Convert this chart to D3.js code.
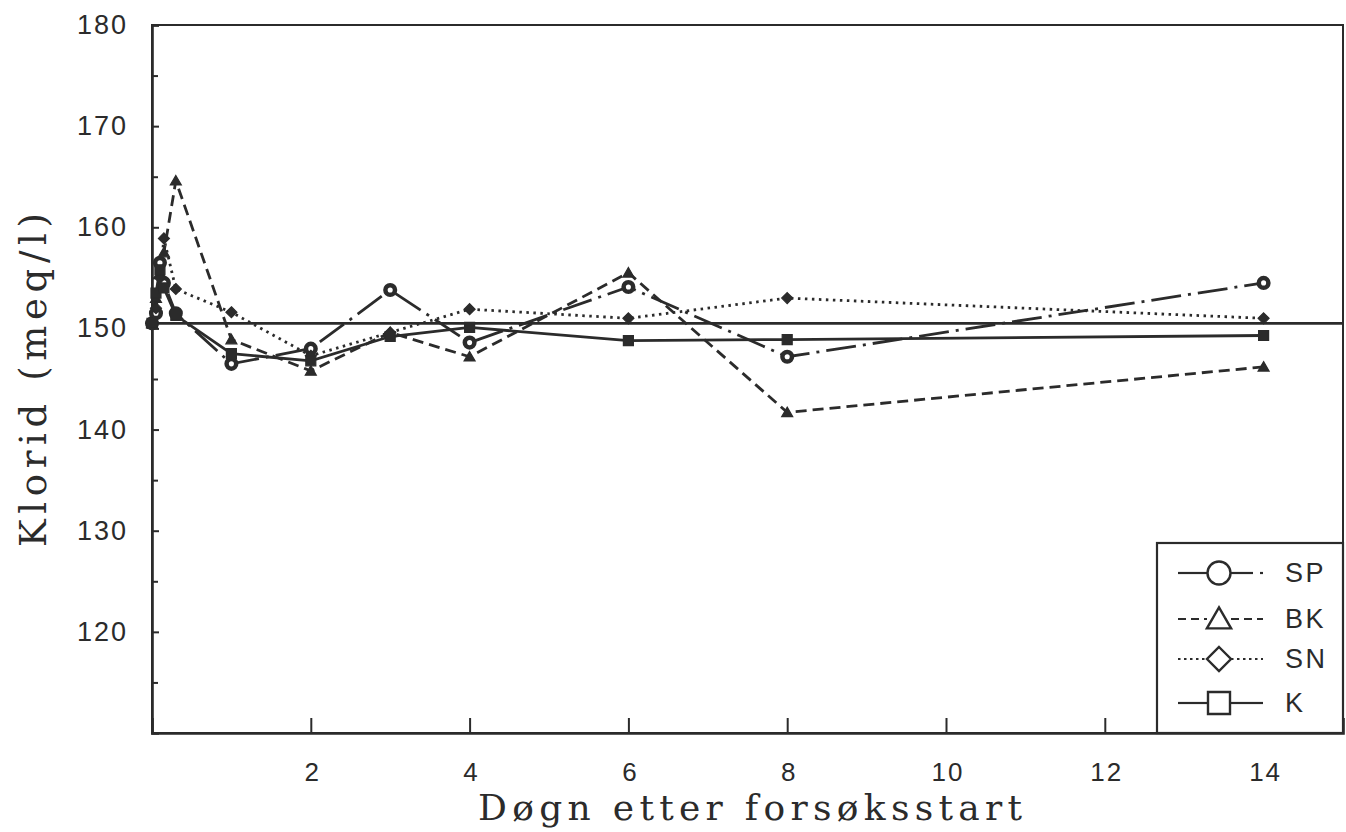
<!DOCTYPE html>
<html><head><meta charset="utf-8">
<script src="https://cdn.jsdelivr.net/npm/d3@7"></script>
<style>
html,body{margin:0;padding:0;background:#fff;}
svg{display:block;}
</style></head>
<body>
<svg id="chart" width="1346" height="832"></svg>
<script>
// ---- data ----
const days = [0, 0.05, 0.1, 0.15, 0.3, 1, 2, 3, 4, 6, 8, 14];
const spValues = [150.5, 151.5, 156.5, 154.5, 151.5, 146.5, 148.0, 153.8, 148.6, 154.1, 147.2, 154.5];
const bkValues = [150.5, 153.0, 155.5, 157.5, 164.6, 148.9, 145.8, 149.6, 147.2, 155.5, 141.7, 146.2];
const snValues = [150.5, 152.0, 155.0, 158.9, 153.9, 151.6, 147.3, 149.6, 151.9, 151.0, 153.0, 151.0];
const kValues  = [150.5, 153.5, 155.8, 154.0, 151.3, 147.5, 146.8, 149.2, 150.1, 148.8, 148.9, 149.3];
const seriesNames = ["SP", "BK", "SN", "K"];
const referenceLevel = 150.5;
const xTickValues = [2, 4, 6, 8, 10, 12, 14];
const yTickValues = [120, 130, 140, 150, 160, 170, 180];
const yMinorTicks = [115, 125, 135, 145, 155, 165, 175];
const xTitle = "Døgn etter forsøksstart";
const yTitle = "Klorid (meq/l)";

const ink = "#2b2b2b";
const series = [
  {name: seriesNames[0], values: spValues, dash: "30,7,3,7", shape: "circle"},
  {name: seriesNames[1], values: bkValues, dash: "11,6", shape: "triangle"},
  {name: seriesNames[2], values: snValues, dash: "2.5,4.5", shape: "diamond"},
  {name: seriesNames[3], values: kValues,  dash: null, shape: "square"}
];

const svg = d3.select("#chart");
const x = d3.scaleLinear().domain([0, 15]).range([152, 1343]);
const y = d3.scaleLinear().domain([110, 180]).range([733, 25]);

// frame
svg.append("rect").attr("x", x(0)).attr("y", y(180))
  .attr("width", x(15) - x(0)).attr("height", y(110) - y(180))
  .attr("fill", "none").attr("stroke", ink).attr("stroke-width", 2);

// left axis
const yAxis = d3.axisRight(y).tickValues(yTickValues).tickSize(7).tickFormat("");
const gy = svg.append("g").attr("transform", `translate(${x(0)},0)`).call(yAxis);
gy.select(".domain").attr("stroke", ink).attr("stroke-width", 2.6);
gy.selectAll(".tick line").attr("stroke", ink).attr("stroke-width", 2);
const yMinor = d3.axisRight(y).tickValues(yMinorTicks).tickSize(6).tickFormat("");
const gym = svg.append("g").attr("transform", `translate(${x(0)},0)`).call(yMinor);
gym.select(".domain").remove();
gym.selectAll(".tick line").attr("stroke", ink).attr("stroke-width", 2);
// y tick labels
svg.append("g").selectAll("text").data(yTickValues).join("text")
  .attr("x", 128).attr("y", d => y(d) + 9)
  .attr("text-anchor", "end")
  .attr("font-family", "'Liberation Sans', Arial, sans-serif")
  .attr("font-size", 27).attr("letter-spacing", 2).attr("fill", ink)
  .text(d => d);

// bottom axis
const xAxis = d3.axisTop(x).tickValues(xTickValues).tickSize(15).tickFormat("");
const gx = svg.append("g").attr("transform", `translate(0,${y(110)})`).call(xAxis);
gx.select(".domain").attr("stroke", ink).attr("stroke-width", 2.6);
gx.selectAll(".tick line").attr("stroke", ink).attr("stroke-width", 2);
svg.append("g").selectAll("text").data(xTickValues).join("text")
  .attr("x", d => x(d) + 2).attr("y", 781)
  .attr("text-anchor", "middle")
  .attr("font-family", "'Liberation Sans', Arial, sans-serif")
  .attr("font-size", 26).attr("letter-spacing", 2).attr("fill", ink)
  .text(d => d);

// axis titles
svg.append("text").attr("x", 478).attr("y", 820)
  .attr("font-family", "'DejaVu Serif', 'Liberation Serif', serif")
  .attr("font-size", 36).attr("fill", ink)
  .attr("textLength", 544).attr("lengthAdjust", "spacing")
  .text(xTitle);
svg.append("text").attr("transform", "translate(46,547) rotate(-90)")
  .attr("font-family", "'DejaVu Serif', 'Liberation Serif', serif")
  .attr("font-size", 37).attr("fill", ink)
  .attr("textLength", 334).attr("lengthAdjust", "spacing")
  .text(yTitle);

// reference line
svg.append("line").attr("x1", x(0) - 6).attr("x2", x(15))
  .attr("y1", y(referenceLevel)).attr("y2", y(referenceLevel))
  .attr("stroke", ink).attr("stroke-width", 2.8);

// series lines
const line = d3.line().x((d, i) => x(days[i])).y(d => y(d));
series.forEach(s => {
  svg.append("path").datum(s.values).attr("d", line)
    .attr("fill", "none").attr("stroke", ink).attr("stroke-width", 2.8)
    .attr("stroke-dasharray", s.dash);
});

// markers
function shapePath(shape, size) {
  const h = size / 2;
  if (shape === "triangle") return `M0,${-h*1.05}L${h*1.1},${h*0.85}L${-h*1.1},${h*0.85}Z`;
  if (shape === "diamond") return `M0,${-h}L${h},0L0,${h}L${-h},0Z`;
  if (shape === "square") return `M${-h},${-h}H${h}V${h}H${-h}Z`;
  return null;
}
series.forEach(s => {
  const g = svg.append("g");
  s.values.forEach((v, i) => {
    const cx = x(days[i]), cy = y(v);
    if (s.shape === "circle") {
      g.append("circle").attr("cx", cx).attr("cy", cy).attr("r", 4.8)
        .attr("fill", "#fff").attr("stroke", ink).attr("stroke-width", 4.5);
    } else {
      g.append("path").attr("transform", `translate(${cx},${cy})`)
        .attr("d", shapePath(s.shape, s.shape === "diamond" ? 11 : 10))
        .attr("fill", ink).attr("stroke", ink).attr("stroke-width", 1.2);
    }
  });
});

// legend
svg.append("rect").attr("x", 1157).attr("y", 543)
  .attr("width", x(15) - 1157).attr("height", y(110) - 543)
  .attr("fill", "#fff").attr("stroke", ink).attr("stroke-width", 2.2);
const legY = [573, 619, 659, 703];
const legDash = ["", "8,5", "2.5,3.5", ""];
series.forEach((s, i) => {
  const ly = legY[i];
  const g = svg.append("g");
  if (s.name === "SP") {
    g.append("line").attr("x1", 1178).attr("x2", 1209).attr("y1", ly).attr("y2", ly)
      .attr("stroke", ink).attr("stroke-width", 2.2);
    g.append("line").attr("x1", 1229).attr("x2", 1253).attr("y1", ly).attr("y2", ly)
      .attr("stroke", ink).attr("stroke-width", 2.2);
    g.append("line").attr("x1", 1260).attr("x2", 1263).attr("y1", ly).attr("y2", ly)
      .attr("stroke", ink).attr("stroke-width", 2.2);
  } else {
    g.append("line").attr("x1", 1178).attr("x2", 1207).attr("y1", ly).attr("y2", ly)
      .attr("stroke", ink).attr("stroke-width", 2.2).attr("stroke-dasharray", legDash[i] || null);
    g.append("line").attr("x1", 1231).attr("x2", 1263).attr("y1", ly).attr("y2", ly)
      .attr("stroke", ink).attr("stroke-width", 2.2).attr("stroke-dasharray", legDash[i] || null);
  }
  if (s.shape === "circle") {
    g.append("circle").attr("cx", 1219).attr("cy", ly).attr("r", 11.5)
      .attr("fill", "#fff").attr("stroke", ink).attr("stroke-width", 2.4);
  } else {
    const sz = s.shape === "square" ? 22 : (s.shape === "diamond" ? 24 : 22);
    g.append("path").attr("transform", `translate(1219,${ly})`)
      .attr("d", shapePath(s.shape, sz))
      .attr("fill", "#fff").attr("stroke", ink).attr("stroke-width", 2.4);
  }
  g.append("text").attr("x", 1285).attr("y", ly + 9)
    .attr("font-family", "'Liberation Sans', Arial, sans-serif")
    .attr("font-size", 27).attr("letter-spacing", 2.5).attr("fill", ink).text(s.name);
});
</script>
</body></html>
